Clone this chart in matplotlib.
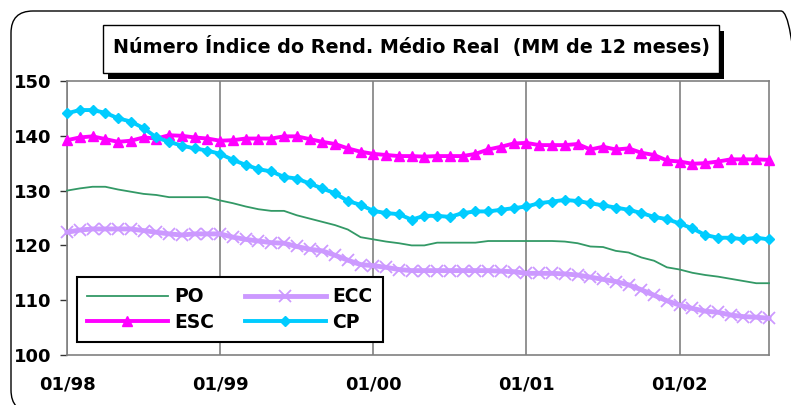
import matplotlib
matplotlib.use("Agg")
import matplotlib.pyplot as plt
from matplotlib.patches import FancyBboxPatch, Rectangle
from matplotlib.transforms import Affine2D

# ---------------- data ----------------
title = "Número Índice do Rend. Médio Real  (MM de 12 meses)"
tick_labels = ["01/98", "01/99", "01/00", "01/01", "01/02"]
tick_pos = [0, 12, 24, 36, 48]
months = list(range(56))  # 01/98 .. 08/02

po = [130.0, 130.4, 130.7, 130.7, 130.2, 129.8, 129.4, 129.2, 128.8, 128.8,
      128.8, 128.8, 128.2, 127.7, 127.1, 126.6, 126.3, 126.3, 125.5, 124.9,
      124.3, 123.7, 122.9, 121.5, 121.1, 120.7, 120.4, 120.0, 120.0, 120.5,
      120.5, 120.5, 120.5, 120.8, 120.8, 120.8, 120.8, 120.8, 120.8, 120.7,
      120.4, 119.8, 119.7, 119.0, 118.7, 117.8, 117.2, 116.0, 115.6, 115.0,
      114.6, 114.3, 113.9, 113.5, 113.1, 113.1]
esc = [139.2, 139.7, 139.9, 139.4, 138.9, 139.1, 139.7, 139.5, 140.1, 140.0,
       139.7, 139.5, 139.1, 139.2, 139.5, 139.5, 139.5, 139.9, 139.9, 139.4,
       138.9, 138.5, 137.7, 137.1, 136.7, 136.5, 136.3, 136.3, 136.2, 136.3,
       136.3, 136.3, 136.7, 137.5, 138.0, 138.6, 138.7, 138.3, 138.3, 138.3,
       138.5, 137.5, 138.0, 137.5, 137.7, 136.9, 136.5, 135.5, 135.3, 134.9,
       135.0, 135.3, 135.7, 135.7, 135.7, 135.6]
ecc = [122.4, 122.8, 123.0, 123.0, 123.0, 123.0, 122.7, 122.4, 122.1, 121.9,
       122.1, 122.1, 122.1, 121.5, 121.1, 120.8, 120.5, 120.4, 119.8, 119.3,
       119.0, 118.2, 117.3, 116.5, 116.3, 116.0, 115.6, 115.4, 115.4, 115.4,
       115.4, 115.4, 115.4, 115.4, 115.3, 115.2, 114.9, 114.9, 114.9, 114.8,
       114.6, 114.2, 113.8, 113.4, 112.8, 111.9, 110.9, 109.9, 109.1, 108.5,
       108.0, 107.8, 107.3, 107.0, 106.9, 106.7]
cp = [144.1, 144.7, 144.7, 144.2, 143.2, 142.6, 141.4, 139.7, 138.9, 138.2,
      137.7, 137.3, 136.7, 135.6, 134.7, 133.9, 133.5, 132.5, 132.2, 131.3,
      130.4, 129.5, 128.1, 127.4, 126.3, 125.9, 125.7, 124.7, 125.4, 125.4,
      125.2, 125.9, 126.2, 126.2, 126.5, 126.8, 127.1, 127.7, 128.0, 128.3,
      128.1, 127.7, 127.3, 126.9, 126.5, 125.9, 125.2, 124.8, 124.0, 123.1,
      121.9, 121.4, 121.4, 121.1, 121.4, 121.1]

# ---------------- figure ----------------
W, H = 791, 405
plt.rcParams['font.family'] = ['DejaVu Sans']
fig = plt.figure(figsize=(W / 100, H / 100), dpi=100)
pix = Affine2D().scale(1 / W, 1 / H) + fig.transFigure  # pixel coords, origin bottom-left

# outer rounded frame
fig.patches.append(FancyBboxPatch((11, H - 412), 803 - 11, 412 - 11,
                                  boxstyle="round,pad=0,rounding_size=22",
                                  transform=pix, facecolor='none',
                                  edgecolor='black', linewidth=1.0))

ax = fig.add_axes([67 / W, (H - 355) / H, (769 - 67) / W, (355 - 81) / H])
ax.set_xlim(0, 55)
ax.set_ylim(100, 150)

ax.plot(months, po, color='#339966', lw=1.3, label='PO', clip_on=False, zorder=3)
ax.plot(months, esc, color='#FF00FF', lw=2.8, marker='^', ms=7, mew=1,
        label='ESC', clip_on=False, zorder=4)
ax.plot(months, ecc, color='#CC99FF', lw=3.5, marker='x', ms=8.5, mew=1.3,
        label='ECC', clip_on=False, zorder=5)
ax.plot(months, cp, color='#00CCFF', lw=2.8, marker='D', ms=5.5, mew=1,
        label='CP', clip_on=False, zorder=6)

ax.set_xticks(tick_pos)
ax.set_xticklabels(tick_labels)
ax.set_yticks([100, 110, 120, 130, 140, 150])
ax.tick_params(axis='x', length=0, pad=15, labelsize=13)
ax.tick_params(axis='y', length=5, width=1, color='#333333', pad=6, labelsize=13,
               direction='out')
for lab in ax.get_xticklabels() + ax.get_yticklabels():
    lab.set_fontweight('bold')
ax.grid(axis='x', color='#808080', lw=1.2)
ax.grid(axis='y', visible=False)
for s in ax.spines.values():
    s.set_color('#808080')
    s.set_linewidth(1.2)

leg = ax.legend(ncol=2, loc='lower left',
                bbox_to_anchor=(76.7 / W, (H - 342.3) / H),
                bbox_transform=fig.transFigure, borderaxespad=0,
                frameon=True, fancybox=False, framealpha=1,
                edgecolor='black', handlelength=4.3, handletextpad=0.35,
                columnspacing=1.65, labelspacing=0.35, borderpad=0.55,
                prop={'weight': 'bold', 'size': 13.5})
leg.get_frame().set_linewidth(1.5)
leg.set_zorder(10)

# title box with shadow
bx0, bx1, by0, by1 = 103, 719, 25, 73
fig.patches.append(Rectangle((bx0 + 5, H - by1 - 6), bx1 - bx0, by1 - by0,
                             transform=pix, facecolor='black', edgecolor='none'))
fig.patches.append(Rectangle((bx0, H - by1), bx1 - bx0, by1 - by0,
                             transform=pix, facecolor='white', edgecolor='black',
                             linewidth=1.0))
t = fig.text((bx0 + bx1) / 2 / W, 1 - 46 / H, title, ha='center', va='center',
             fontsize=14, fontweight='bold')
r = fig.canvas.get_renderer()
w = t.get_window_extent(r).width
t.set_fontsize(14 * 600 / w)

fig.savefig('out.png', dpi=100)
